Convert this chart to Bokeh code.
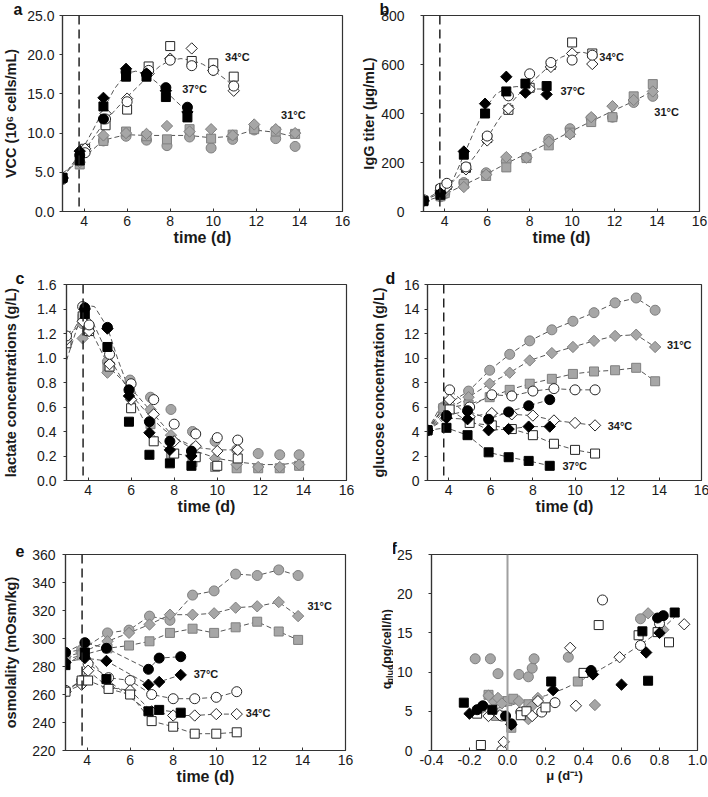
import numpy as np
from bokeh.plotting import figure
from bokeh.layouts import row, column
from bokeh.models import Label, Span, FixedTicker, NumeralTickFormatter, Range1d, Title
from bokeh.core.properties import value
from bokeh.embed import file_html
from bokeh.resources import INLINE

FONT = "Liberation Sans"

# ---------------- panel a : VCC (10^6 cells/mL) ----------------
A_T37 = [3.0, 3.8, 4.9, 5.95, 6.9, 7.8, 8.8]
A_37_CIR = [4.2, 7.2, 11.8, 17.8, 17.5, 15.8, 13.3]
A_37_SQR = [4.3, 6.5, 13.4, 17.2, 17.2, 14.6, 12.0]
A_37_DIA = [4.3, 7.7, 14.5, 18.2, 17.6, 15.4, 12.7]
A_T34 = [3.0, 4.05, 5.0, 6.0, 7.0, 8.0, 9.0, 10.0, 10.95]
A_34_CIR = [4.1, 7.5, 11.8, 14.0, 18.0, 19.3, 18.6, 18.0, 16.0]
A_34_SQR = [4.3, 8.0, 11.0, 13.0, 18.5, 21.1, 19.2, 18.9, 17.2]
A_34_DIA = [4.2, 8.0, 12.5, 14.4, 17.6, 19.5, 20.8, 18.0, 15.4]
A_T31 = [3.8, 4.9, 5.95, 6.9, 7.85, 8.9, 9.9, 10.9, 11.9, 12.9, 13.8]
A_31_CIR = [6.2, 9.0, 9.6, 9.1, 8.4, 9.5, 8.1, 9.2, 10.4, 9.3, 8.3]
A_31_SQR = [6.0, 9.0, 10.2, 9.6, 9.2, 10.5, 9.3, 9.8, 10.5, 10.2, 9.9]
A_31_DIA = [6.3, 9.7, 10.0, 9.9, 10.9, 10.2, 10.5, 9.7, 11.1, 10.5, 10.0]
A_FIT37_T = [3.0, 3.8, 4.4, 4.9, 5.4, 5.95, 6.4, 6.9, 7.4, 7.8, 8.3, 8.8]
A_FIT37 = [4.4, 7.3, 10.3, 13.0, 15.6, 17.6, 17.9, 17.5, 16.4, 15.3, 14.0, 12.7]
A_FIT34_T = [3.0, 4.05, 5.0, 6.0, 7.0, 7.5, 8.0, 8.5, 9.0, 9.5, 10.0, 10.5, 10.95]
A_FIT34 = [4.3, 7.9, 11.6, 14.6, 17.3, 18.5, 19.3, 19.5, 19.3, 18.8, 18.0, 17.0, 16.0]
A_FIT31_T = [3.0, 3.8, 4.9, 5.95, 6.9, 7.85, 8.9, 9.9, 10.9, 11.9, 12.9, 13.8]
A_FIT31 = [4.9, 6.4, 9.1, 9.8, 9.7, 9.7, 9.7, 9.4, 9.6, 10.4, 10.1, 9.5]

# ---------------- panel b : IgG titer (ug/mL) ----------------
B_T37 = [3.0, 3.8, 4.9, 5.9, 6.9, 7.8, 8.8]
B_37_SQR = [42, 68, 232, 400, 490, 522, 512]
B_37_DIA = [45, 75, 245, 440, 550, 485, 478]
B_T34 = [3.0, 3.8, 4.1, 5.0, 6.0, 7.0, 8.0, 9.0, 10.0, 10.95]
B_34_CIR = [48, 95, 115, 182, 308, 472, 562, 608, 618, 638]
B_34_SQR = [45, 90, 108, 178, 300, 415, 505, 598, 690, 645]
B_34_DIA = [42, 85, 100, 172, 290, 420, 500, 590, 645, 602]
B_T31 = [3.8, 4.0, 4.9, 5.95, 6.9, 7.85, 8.9, 9.9, 10.9, 11.9, 12.9, 13.8]
B_31_CIR = [60, 72, 118, 158, 205, 220, 295, 338, 380, 385, 445, 470]
B_31_SQR = [62, 75, 112, 145, 180, 218, 270, 322, 365, 385, 470, 520]
B_31_DIA = [66, 80, 100, 150, 222, 220, 285, 315, 385, 430, 455, 490]
B_FIT37_T = [3.0, 3.8, 4.4, 4.9, 5.4, 5.9, 6.4, 6.9, 7.4, 7.8, 8.3, 8.8]
B_FIT37 = [45, 75, 130, 230, 330, 420, 478, 505, 510, 505, 500, 500]
B_FIT34_T = [3.0, 3.8, 4.5, 5.0, 5.5, 6.0, 6.5, 7.0, 7.5, 8.0, 8.5, 9.0, 9.5, 10.0, 10.5, 10.95]
B_FIT34 = [45, 85, 130, 180, 235, 300, 370, 430, 480, 520, 560, 600, 630, 648, 650, 640]
B_FIT31_T = [3.0, 3.8, 4.9, 5.95, 6.9, 7.85, 8.9, 9.9, 10.9, 11.9, 12.9, 13.8]
B_FIT31 = [40, 62, 108, 152, 196, 236, 280, 325, 368, 410, 450, 492]

# ---------------- panel c : lactate (g/L) ----------------
C_T37 = [3.85, 4.9, 5.9, 6.85, 7.8, 8.8]
C_37_CIR = [1.41, 1.25, 0.74, 0.48, 0.32, 0.24]
C_37_SQR = [1.36, 1.09, 0.48, 0.21, 0.14, 0.12]
C_37_DIA = [1.40, 1.24, 0.69, 0.39, 0.25, 0.20]
C_T34 = [3.0, 3.75, 4.05, 5.0, 6.0, 7.05, 8.0, 9.0, 10.0, 10.95]
C_34_CIR = [1.18, 1.42, 1.27, 1.03, 0.79, 0.66, 0.46, 0.38, 0.35, 0.33]
C_34_SQR = [1.12, 1.34, 1.22, 0.93, 0.59, 0.32, 0.22, 0.19, 0.12, 0.18]
C_34_DIA = [1.15, 1.30, 1.22, 0.95, 0.66, 0.54, 0.32, 0.28, 0.24, 0.25]
C_T31 = [3.75, 4.0, 4.9, 5.95, 6.9, 7.85, 8.85, 9.9, 10.9, 11.9, 12.9, 13.8]
C_31_CIR = [1.28, 1.22, 0.97, 0.82, 0.68, 0.58, 0.40, 0.32, 0.25, 0.22, 0.21, 0.21]
C_31_SQR = [1.32, 1.22, 0.92, 0.75, 0.46, 0.22, 0.15, 0.11, 0.10, 0.10, 0.10, 0.12]
C_31_DIA = [1.16, 1.22, 0.88, 0.72, 0.58, 0.37, 0.26, 0.18, 0.13, 0.11, 0.11, 0.13]
C_FIT37_T = [3.0, 3.5, 3.9, 4.3, 4.9, 5.4, 6.0, 6.5, 7.0, 7.5, 8.0, 8.8]
C_FIT37 = [0.98, 1.25, 1.43, 1.42, 1.25, 0.98, 0.70, 0.52, 0.38, 0.28, 0.22, 0.20]
C_FIT34_T = [3.0, 3.8, 4.2, 5.0, 5.5, 6.0, 6.5, 7.0, 7.5, 8.0, 9.0, 10.0, 10.95]
C_FIT34 = [1.13, 1.37, 1.30, 1.00, 0.85, 0.70, 0.60, 0.50, 0.42, 0.35, 0.27, 0.25, 0.25]
C_FIT31_T = [3.0, 3.75, 4.2, 5.0, 6.0, 7.0, 8.0, 9.0, 10.0, 11.0, 12.0, 13.0, 13.8]
C_FIT31 = [1.20, 1.27, 1.20, 0.92, 0.75, 0.55, 0.35, 0.24, 0.18, 0.15, 0.13, 0.13, 0.15]

# ---------------- panel d : glucose (g/L) ----------------
D_T37 = [3.0, 3.9, 4.9, 5.9, 6.85, 7.8, 8.8]
D_37_CIR = [4.1, 5.3, 5.7, 5.0, 5.6, 6.1, 6.6]
D_37_DIA = [4.1, 5.1, 5.0, 4.1, 4.2, 4.4, 4.4]
D_37_SQR = [4.1, 4.3, 3.7, 2.3, 1.9, 1.6, 1.2]
D_T34 = [3.0, 4.05, 5.0, 6.05, 7.0, 8.0, 9.0, 10.0, 10.95]
D_34_CIR = [4.1, 7.4, 6.0, 7.0, 6.9, 7.3, 7.5, 7.4, 7.4]
D_34_DIA = [4.1, 6.6, 5.2, 5.5, 5.4, 5.3, 4.9, 4.7, 4.5]
D_34_SQR = [4.1, 5.8, 4.7, 4.5, 4.2, 3.7, 3.0, 2.5, 2.2]
D_T31 = [3.0, 3.75, 4.95, 5.95, 6.9, 7.85, 8.9, 9.9, 10.9, 11.9, 12.9, 13.8]
D_31_CIR = [4.1, 6.0, 7.3, 9.0, 10.3, 11.4, 12.3, 13.0, 13.7, 14.5, 14.9, 13.9]
D_31_DIA = [4.1, 5.6, 6.8, 7.9, 8.8, 9.8, 10.4, 10.9, 11.4, 11.8, 11.9, 10.9]
D_31_SQR = [4.1, 5.9, 6.2, 6.8, 7.4, 7.9, 8.3, 8.7, 8.9, 9.0, 9.2, 8.1]

# ---------------- panel e : osmolality (mOsm/kg) ----------------
E_T37 = [3.0, 3.9, 4.9, 6.85, 7.35, 8.35]
E_37_CIR = [290, 297, 293, 278, 286, 287]
E_37_DIA = [283, 286, 284, 267, 269, 274]
E_37_SQR = [281, 290, 271, 248, 249, 247]
E_T34 = [3.0, 3.75, 4.05, 5.0, 6.0, 7.0, 8.0, 9.0, 10.0, 10.95]
E_34_CIR = [263, 270, 282, 272, 270, 260, 257, 257, 258, 262]
E_34_DIA = [262, 267, 277, 265, 263, 248, 245, 245, 246, 246]
E_34_SQR = [262, 270, 270, 264, 260, 241, 237, 232, 232, 233]
E_T31 = [3.0, 3.75, 4.95, 5.95, 6.9, 7.85, 8.9, 9.9, 10.9, 11.9, 12.9, 13.8]
E_31_CIR = [290, 292, 304, 306, 316, 313, 331, 334, 346, 345, 349, 345]
E_31_DIA = [287, 290, 298, 304, 310, 317, 317, 318, 322, 323, 326, 316]
E_31_SQR = [285, 288, 293, 295, 298, 304, 307, 304, 308, 312, 305, 299]

# ---------------- panel f : q_gluc vs mu ----------------
F37_SQR_X = [-0.23, -0.08, 0.23, 0.71, 0.74, 0.88]
F37_SQR_Y = [6.1, 5.2, 8.8, 15.2, 8.9, 17.6]
F37_DIA_X = [-0.20, 0.02, 0.24, 0.44, 0.45, 0.60, 0.73, 0.80]
F37_DIA_Y = [4.7, 3.3, 7.7, 10.1, 9.7, 8.4, 12.5, 15.0]
F37_CIR_X = [-0.16, -0.13, -0.01, 0.02, 0.44, 0.79, 0.82]
F37_CIR_Y = [5.2, 5.7, 4.4, 3.4, 10.2, 16.9, 17.2]
F34_CIR_X = [-0.03, -0.03, 0.07, 0.18, 0.25, 0.50, 0.70, 0.80]
F34_CIR_Y = [0.0, 4.4, 4.9, 4.9, 6.1, 19.2, 13.4, 16.2]
F34_SQR_X = [-0.14, -0.16, 0.07, 0.10, 0.20, 0.40, 0.48, 0.69, 0.85, 0.79]
F34_SQR_Y = [0.7, 4.7, 4.5, 5.0, 5.5, 9.9, 16.0, 14.7, 13.8, 15.1]
F34_DIA_X = [-0.02, -0.10, -0.04, 0.13, 0.16, 0.33, 0.36, 0.59, 0.93]
F34_DIA_Y = [1.1, 4.4, 4.5, 4.4, 6.3, 13.1, 5.7, 11.9, 16.1]
F31_DIA_X = [-0.10, -0.07, -0.05, -0.03, 0.06, 0.11, 0.13, 0.16, 0.46, 0.74, 0.82]
F31_DIA_Y = [7.0, 6.2, 6.7, 6.0, 6.3, 4.0, 5.7, 6.7, 5.8, 17.5, 15.4]
F31_SQR_X = [-0.10, -0.06, 0.00, 0.03, 0.02, 0.11, 0.37, 0.80]
F31_SQR_Y = [7.1, 4.4, 6.3, 6.6, 2.9, 5.9, 8.8, 15.2]
F31_CIR_X = [-0.17, -0.09, -0.05, 0.06, 0.11, 0.13, 0.14, 0.32, 0.70, -0.14, -0.06]
F31_CIR_Y = [11.7, 11.7, 9.8, 9.7, 9.4, 10.5, 11.7, 11.9, 16.8, 5.4, 4.6]
F_FIT_X = [-0.22, -0.10, 0.0, 0.10, 0.20, 0.30, 0.40, 0.50, 0.60, 0.70, 0.80, 0.88]
F_FIT_Y = [4.5, 5.1, 5.7, 6.3, 7.0, 7.9, 9.1, 10.5, 11.9, 13.5, 15.2, 17.0]

T_TICKS = [4, 6, 8, 10, 12, 14, 16]
SHIFT_DAY = 3.77

STY = {"37": ("#000000", "#000000"), "34": ("#ffffff", "#262626"), "31": ("#a6a6a6", "#7f7f7f")}
MK = {"cir": ("circle", 10, 0.0), "sqr": ("square", 9, 0.0), "dia": ("square", 8, np.pi / 4)}
LINE_C = "#555555"
ROW3_H = 259


def make_fig(xr, yr, fw, bl, br, bt, bb, xticks, yticks, xlabel, ylabel,
             xfmt=None, yfmt=None, ystand=5, ylstand=5, xlab_size="16px"):
    p = figure(frame_width=fw, frame_height=196, x_range=Range1d(*xr), y_range=Range1d(*yr),
               output_backend="svg", toolbar_location=None,
               min_border_left=bl, min_border_right=br, min_border_top=bt, min_border_bottom=bb)
    p.grid.visible = False
    p.outline_line_color = "#333333"
    p.outline_line_width = 1.2
    xa = p.xaxis[0]
    ya = p.yaxis[0]
    xa.ticker = FixedTicker(ticks=xticks)
    ya.ticker = FixedTicker(ticks=yticks)
    if xfmt:
        xa.formatter = NumeralTickFormatter(format=xfmt)
    if yfmt:
        ya.formatter = NumeralTickFormatter(format=yfmt)
    for ax in (xa, ya):
        ax.axis_line_color = "#333333"
        ax.axis_line_width = 1.2
        ax.major_tick_line_color = "#333333"
        ax.minor_tick_line_color = None
        ax.major_label_text_font = FONT
        ax.major_label_text_font_size = "14px"
        ax.major_label_text_color = "#1a1a1a"
        ax.axis_label_text_font = FONT
        ax.axis_label_text_font_style = "bold"
        ax.axis_label_text_color = "#1a1a1a"
    xa.major_tick_in = 3
    xa.major_tick_out = 0
    xa.major_label_standoff = 4
    xa.axis_label_standoff = 0
    xa.axis_label_text_font_size = xlab_size
    ya.major_tick_in = 0
    ya.major_tick_out = 3
    ya.major_label_standoff = ystand
    ya.axis_label_standoff = ylstand
    ya.axis_label_text_font_size = "14.5px"
    xa.axis_label = xlabel
    ya.axis_label = ylabel
    return p


def add_series(p, data, with_lines):
    if with_lines:
        for temp, mk, xs, ys in data:
            p.line(xs, ys, line_color=LINE_C, line_dash="5 3", line_width=1)
    for temp, mk, xs, ys in data:
        fill, lc = STY[temp]
        m, s, ang = MK[mk]
        p.scatter(xs, ys, marker=m, size=s, angle=ang, fill_color=fill, line_color=lc, line_width=1)


def add_fits(p, fits):
    for xs, ys in fits:
        p.line(xs, ys, line_color=LINE_C, line_dash="5 3", line_width=1)


def add_shift(p):
    p.add_layout(Span(location=SHIFT_DAY, dimension="height", line_color="#222222",
                      line_dash="9 5", line_width=1.5))


def letter(p, txt, off):
    p.add_layout(Title(text=txt, align="left", offset=off, standoff=-4,
                       text_font=FONT, text_font_size="16px", text_font_style="bold",
                       text_color="#111111"), "above")


def temp_label(p, txt, x, y):
    p.add_layout(Label(x=x, y=y, text=txt, text_font=FONT, text_font_size="11px",
                       text_font_style="bold", text_color="#1a1a1a",
                       text_align="left", text_baseline="middle"))


# ---- a ----
pa = make_fig((3, 16), (0, 25), 280, 58, 16, 15, 57, T_TICKS, [0, 5, 10, 15, 20, 25],
              "time (d)", "VCC (10\u2076 cells/mL)", yfmt="0.0", ystand=5, ylstand=5)
add_shift(pa)
add_fits(pa, [(A_FIT31_T, A_FIT31), (A_FIT34_T, A_FIT34), (A_FIT37_T, A_FIT37)])
add_series(pa, [("31", "cir", A_T31, A_31_CIR), ("31", "sqr", A_T31, A_31_SQR), ("31", "dia", A_T31, A_31_DIA),
                ("34", "sqr", A_T34, A_34_SQR), ("34", "dia", A_T34, A_34_DIA), ("34", "cir", A_T34, A_34_CIR),
                ("37", "sqr", A_T37, A_37_SQR), ("37", "cir", A_T37, A_37_CIR), ("37", "dia", A_T37, A_37_DIA)], False)
temp_label(pa, "34°C", 10.55, 19.7)
temp_label(pa, "37°C", 8.56, 15.6)
temp_label(pa, "31°C", 13.15, 12.3)
letter(pa, "a", -49)

# ---- b ----
pb = make_fig((3, 16), (0, 800), 276, 64, 14, 15, 57, T_TICKS, [0, 200, 400, 600, 800],
              "time (d)", "IgG titer (\u00b5g/mL)", ystand=16, ylstand=1)
add_shift(pb)
add_fits(pb, [(B_FIT31_T, B_FIT31), (B_FIT34_T, B_FIT34), (B_FIT37_T, B_FIT37)])
add_series(pb, [("31", "cir", B_T31, B_31_CIR), ("31", "sqr", B_T31, B_31_SQR), ("31", "dia", B_T31, B_31_DIA),
                ("34", "sqr", B_T34, B_34_SQR), ("34", "dia", B_T34, B_34_DIA), ("34", "cir", B_T34, B_34_CIR),
                ("37", "sqr", B_T37, B_37_SQR), ("37", "dia", B_T37, B_37_DIA)], False)
temp_label(pb, "34°C", 11.28, 631)
temp_label(pb, "37°C", 9.45, 491)
temp_label(pb, "31°C", 13.87, 405)
letter(pb, "b", -44)

# ---- c ----
pc = make_fig((3, 16), (0, 1.6), 280, 58, 16, 16, 56, T_TICKS, [0, 0.2, 0.4, 0.6, 0.8, 1.0, 1.2, 1.4, 1.6],
              "time (d)", "lactate concentrations (g/L)", yfmt="0.0", ystand=7, ylstand=15)
add_shift(pc)
add_fits(pc, [(C_FIT31_T, C_FIT31), (C_FIT34_T, C_FIT34), (C_FIT37_T, C_FIT37)])
add_series(pc, [("31", "cir", C_T31, C_31_CIR), ("31", "sqr", C_T31, C_31_SQR), ("31", "dia", C_T31, C_31_DIA),
                ("34", "sqr", C_T34, C_34_SQR), ("34", "dia", C_T34, C_34_DIA), ("34", "cir", C_T34, C_34_CIR),
                ("37", "sqr", C_T37, C_37_SQR), ("37", "cir", C_T37, C_37_CIR), ("37", "dia", C_T37, C_37_DIA)], False)
letter(pc, "c", -51)

# ---- d ----
pd_ = make_fig((3, 16), (0, 16), 274, 65, 15, 16, 56, T_TICKS, [0, 2, 4, 6, 8, 10, 12, 14, 16],
               "time (d)", "glucose concentration (g/L)", ystand=5, ylstand=14)
add_shift(pd_)
add_series(pd_, [("31", "cir", D_T31, D_31_CIR), ("31", "dia", D_T31, D_31_DIA), ("31", "sqr", D_T31, D_31_SQR),
                 ("34", "cir", D_T34, D_34_CIR), ("34", "dia", D_T34, D_34_DIA), ("34", "sqr", D_T34, D_34_SQR),
                 ("37", "cir", D_T37, D_37_CIR), ("37", "dia", D_T37, D_37_DIA), ("37", "sqr", D_T37, D_37_SQR)], True)
temp_label(pd_, "31°C", 14.36, 11.1)
temp_label(pd_, "34°C", 11.55, 4.44)
temp_label(pd_, "37°C", 9.4, 1.17)
letter(pd_, "d", -42)

# ---- e ----
pe = make_fig((3, 16), (220, 360), 280, 58, 16, 18, 45, T_TICKS, [220, 240, 260, 280, 300, 320, 340, 360],
              "time (d)", "osmolality (mOsm/kg)", ystand=7, ylstand=10)
add_shift(pe)
add_series(pe, [("31", "cir", E_T31, E_31_CIR), ("31", "dia", E_T31, E_31_DIA), ("31", "sqr", E_T31, E_31_SQR),
                ("34", "cir", E_T34, E_34_CIR), ("34", "dia", E_T34, E_34_DIA), ("34", "sqr", E_T34, E_34_SQR),
                ("37", "cir", E_T37, E_37_CIR), ("37", "dia", E_T37, E_37_DIA), ("37", "sqr", E_T37, E_37_SQR)], True)
temp_label(pe, "31°C", 14.23, 322.9)
temp_label(pe, "37°C", 8.95, 274.8)
temp_label(pe, "34°C", 11.37, 246.9)
letter(pe, "e", -50)

# ---- f ----
pf = make_fig((-0.4, 1.0), (0, 25), 266, 36, 20, 18, 45,
              [-0.4, -0.2, 0.0, 0.2, 0.4, 0.6, 0.8, 1.0], [0, 5, 10, 15, 20, 25],
              "\u03bc (d\u207b\u00b9)", "", xfmt="0.0", ystand=16, ylstand=0, xlab_size="13px")
pf.add_layout(Span(location=0.0, dimension="height", line_color="#a0a0a0", line_width=2))
pf.line(F_FIT_X, F_FIT_Y, line_color=LINE_C, line_dash="5 3", line_width=1)
add_series(pf, [("31", "cir", F31_CIR_X, F31_CIR_Y), ("31", "sqr", F31_SQR_X, F31_SQR_Y), ("31", "dia", F31_DIA_X, F31_DIA_Y),
                ("34", "cir", F34_CIR_X, F34_CIR_Y), ("34", "sqr", F34_SQR_X, F34_SQR_Y), ("34", "dia", F34_DIA_X, F34_DIA_Y),
                ("37", "cir", F37_CIR_X, F37_CIR_Y), ("37", "sqr", F37_SQR_X, F37_SQR_Y), ("37", "dia", F37_DIA_X, F37_DIA_Y)], False)
letter(pf, "f", -40)

# narrow strip holding the y-axis title of panel f (q with subscript "gluc")
flab = figure(width=32, height=ROW3_H, x_range=Range1d(0, 32), y_range=Range1d(0, ROW3_H),
              x_axis_type=None, y_axis_type=None, output_backend="svg", toolbar_location=None,
              min_border=0)
flab.grid.visible = False
flab.outline_line_color = None
flab.text(x=[25], y=[81], text=["q"], angle=np.pi / 2, text_font=value(FONT), text_font_size="12.5px",
          text_font_style="bold", text_color="#1a1a1a", text_align="left", text_baseline="alphabetic")
flab.text(x=[28], y=[88.6], text=["gluc"], angle=np.pi / 2, text_font=value(FONT), text_font_size="9px",
          text_font_style="bold", text_color="#1a1a1a", text_align="left", text_baseline="alphabetic")
flab.text(x=[25], y=[109], text=["(pg/cell/h)"], angle=np.pi / 2, text_font=value(FONT),
          text_font_size="12.5px", text_font_style="bold", text_color="#1a1a1a",
          text_align="left", text_baseline="alphabetic")

layout = column(row(pa, pb), row(pc, pd_), row(pe, flab, pf))
open("out.html", "w").write(file_html(layout, INLINE))
